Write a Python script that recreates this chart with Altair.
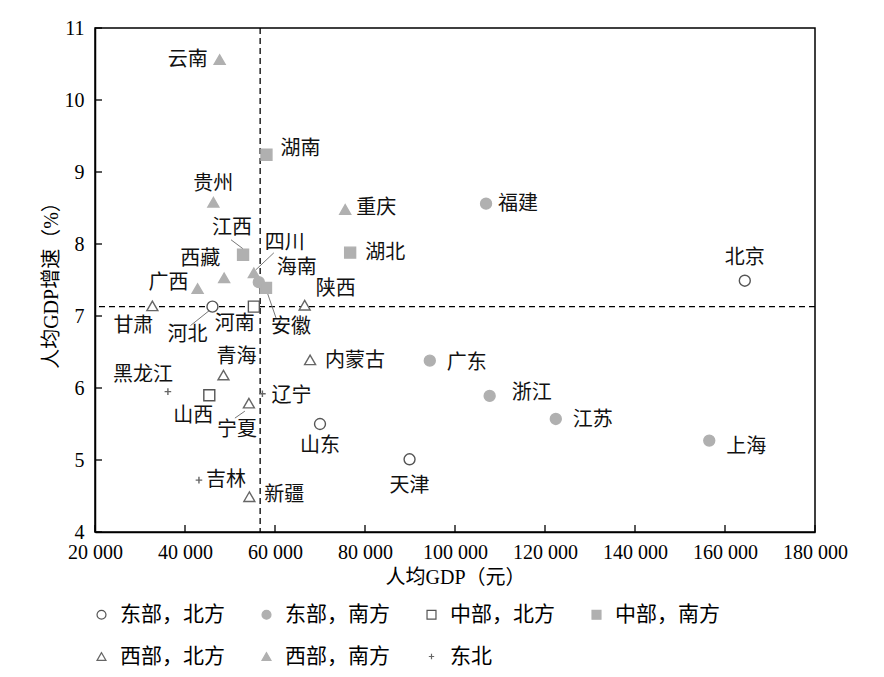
import altair as alt
import pandas as pd

FONT = "Liberation Serif, Noto Sans CJK SC"

groups = ["东部，北方", "东部，南方", "中部，北方", "中部，南方", "西部，北方", "西部，南方", "东北"]

names = ["北京", "天津", "河北", "山东",
         "上海", "江苏", "浙江", "福建", "广东", "海南",
         "山西", "河南",
         "安徽", "江西", "湖南", "湖北",
         "内蒙古", "陕西", "甘肃", "青海", "宁夏", "新疆",
         "云南", "贵州", "四川", "重庆", "广西", "西藏",
         "辽宁", "吉林", "黑龙江"]
group_of = ([groups[0]] * 4 + [groups[1]] * 6 + [groups[2]] * 2 + [groups[3]] * 4
            + [groups[4]] * 6 + [groups[5]] * 6 + [groups[6]] * 3)
gdp = [164400, 89900, 46100, 70000,
       156500, 122400, 107700, 106900, 94400, 56400,
       45400, 55300,
       58000, 52900, 58100, 76700,
       67800, 66600, 32750, 48550, 54200, 54300,
       47700, 46300, 55300, 75600, 42800, 48700,
       57200, 43100, 36200]
growth = [7.49, 5.01, 7.13, 5.50,
          5.27, 5.57, 5.89, 8.56, 6.38, 7.47,
          5.90, 7.13,
          7.39, 7.85, 9.24, 7.88,
          6.39, 7.15, 7.14, 6.18, 5.79, 4.49,
          10.56, 8.58, 7.60, 8.48, 7.38, 7.53,
          5.92, 4.72, 5.95]

mean_gdp = 56700
mean_growth = 7.13

x_ticks = [20000, 40000, 60000, 80000, 100000, 120000, 140000, 160000, 180000]
y_ticks = [4, 5, 6, 7, 8, 9, 10, 11]

# label placement (pixel offsets of label centre from the point)
label_offsets = {
    "北京": (0, -23), "天津": (0, 27), "河北": (-25, 28), "山东": (0, 22),
    "上海": (37, 6), "江苏": (37, 1), "浙江": (42, -3), "福建": (32, 0), "广东": (37, 2),
    "海南": (38, -14), "山西": (-16, 21), "河南": (-19, 17), "安徽": (25, 39),
    "江西": (-11, -27), "湖南": (34, -6), "湖北": (35, 0), "内蒙古": (45, 1),
    "陕西": (31, -16), "甘肃": (-19, 20), "青海": (13, -18), "宁夏": (-12, 27),
    "新疆": (35, -2), "云南": (-32, 0), "贵州": (0, -18), "四川": (31, -30),
    "重庆": (31, -1), "广西": (-29, -6), "西藏": (-24, -19), "辽宁": (29, 2),
    "吉林": (27, 0), "黑龙江": (-25, -17),
}
# leader lines (pixel offsets from point: start dx, dy, end dx, dy)
leaders = {
    "江西": (0, -6, -12, -15),
    "四川": (2, -3, 20, -20),
    "河北": (-2, 3, -22, 19),
    "安徽": (0, 1, 10, 30),
    "宁夏": (-4, 8, -14, 15),
}

W, H = 720, 504
XMIN, XMAX, YMIN, YMAX = 20000, 180000, 4, 11
px_x = (XMAX - XMIN) / W
px_y = (YMAX - YMIN) / H

df = pd.DataFrame({"name": names, "group": group_of, "gdp": gdp, "growth": growth})
df["lx"] = [g + label_offsets[n][0] * px_x for n, g in zip(names, gdp)]
df["ly"] = [v - label_offsets[n][1] * px_y for n, v in zip(names, growth)]

lead_rows = []
for n, (sx, sy, ex, ey) in leaders.items():
    i = names.index(n)
    lead_rows.append({"gdp": gdp[i] + sx * px_x, "growth": growth[i] - sy * px_y,
                      "gdp2": gdp[i] + ex * px_x, "growth2": growth[i] - ey * px_y})
lead_df = pd.DataFrame(lead_rows)

xs = alt.Scale(domain=[XMIN, XMAX], nice=False, zero=False)
ys = alt.Scale(domain=[YMIN, YMAX], nice=False, zero=False)

xaxis = alt.Axis(title="人均GDP（元）", values=x_ticks,
                 labelExpr="replace(format(datum.value, ','), ',', ' ')",
                 ticks=False, grid=False, domainColor="black", domainWidth=1.5,
                 labelFontSize=20, labelColor="black", labelPadding=10,
                 labelFlush=False, labelOverlap=False,
                 titleFontSize=20, titleFontWeight="normal", titleColor="black", titlePadding=5)
yaxis = alt.Axis(title="人均GDP增速（%）", values=y_ticks, format="d",
                 ticks=False, grid=False, domainColor="black", domainWidth=1.5,
                 labelFontSize=20, labelColor="black", labelPadding=11,
                 labelFlush=False, labelOverlap=False,
                 titleFontSize=20, titleFontWeight="normal", titleColor="black", titlePadding=3)

X = alt.X("gdp:Q", scale=xs, axis=xaxis)
Y = alt.Y("growth:Q", scale=ys, axis=yaxis)

vline = alt.Chart(pd.DataFrame({"gdp": [mean_gdp]})).mark_rule(
    color="black", strokeDash=[6, 4], strokeWidth=1.3).encode(x=X)
hline = alt.Chart(pd.DataFrame({"growth": [mean_growth]})).mark_rule(
    color="black", strokeDash=[6, 4], strokeWidth=1.3).encode(y=Y)

xtick = alt.Chart(pd.DataFrame({"gdp": x_ticks})).mark_rule(color="black", strokeWidth=1.3).encode(
    x=X, y=alt.value(H), y2=alt.value(H - 7))
ytick = alt.Chart(pd.DataFrame({"growth": y_ticks})).mark_rule(color="black", strokeWidth=1.3).encode(
    y=Y, x=alt.value(0), x2=alt.value(7))

lead = alt.Chart(lead_df).mark_rule(color="#777777", strokeWidth=1).encode(
    x=X, y=Y, x2="gdp2:Q", y2="growth2:Q")

shapes = ["circle", "circle", "square", "square", "triangle-up", "triangle-up",
          "M-0.6,0L0.6,0M0,-0.6L0,0.6"]
fills = ["white", "#b0b0b0", "white", "#b0b0b0", "white", "#b0b0b0", "transparent"]
strokes = ["#555555", "#b0b0b0", "#555555", "#b0b0b0", "#666666", "#b0b0b0", "#666666"]

def leg():
    return alt.Legend(orient="none", legendX=-4, legendY=576, direction="horizontal",
                      columns=4, title=None, labelFont=FONT, labelFontSize=21,
                      labelColor="black", symbolSize=80, symbolStrokeWidth=1.2,
                      columnPadding=31, rowPadding=20, labelOffset=8)

points = alt.Chart(df).mark_point(size=120, strokeWidth=1.4, opacity=1).encode(
    x=X, y=Y,
    shape=alt.Shape("group:N", scale=alt.Scale(domain=groups, range=shapes), legend=leg()),
    fill=alt.Fill("group:N", scale=alt.Scale(domain=groups, range=fills), legend=leg()),
    stroke=alt.Stroke("group:N", scale=alt.Scale(domain=groups, range=strokes), legend=leg()),
)

labels = alt.Chart(df).mark_text(fontSize=20, font=FONT, color="#111111",
                                 align="center", baseline="middle").encode(
    x=alt.X("lx:Q", scale=xs, axis=xaxis), y=alt.Y("ly:Q", scale=ys, axis=yaxis), text="name:N")

chart = alt.layer(vline, hline, xtick, ytick, lead, points, labels).properties(
    width=W, height=H,
    autosize=alt.AutoSizeParams(type="none"),
    padding={"left": 87, "top": 20, "right": 60, "bottom": 135},
).configure(font=FONT).configure_view(stroke="black", strokeWidth=1.5)

chart.save("out.html", embed_options={"renderer": "svg", "actions": False})
